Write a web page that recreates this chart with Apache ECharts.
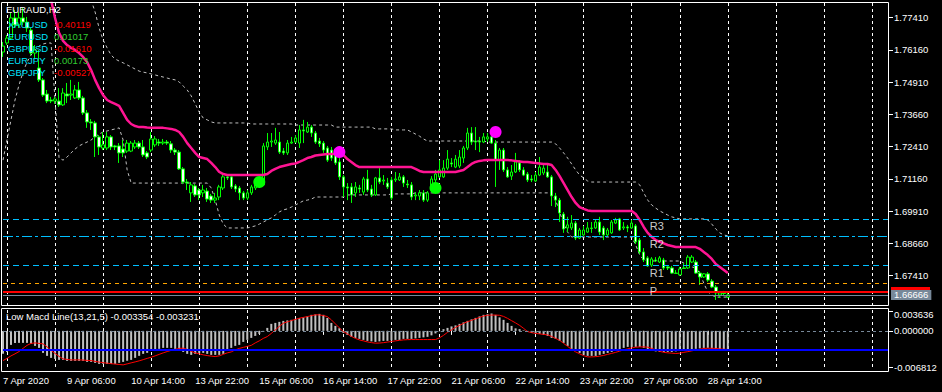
<!DOCTYPE html>
<html><head><meta charset="utf-8">
<script src="https://cdn.jsdelivr.net/npm/echarts@6/dist/echarts.min.js"></script>
<style>html,body{margin:0;padding:0;background:#000;}#c{width:942px;height:392px;}</style>
</head><body><div id="c"></div>
<script>
// ---------------- DATA ----------------
const chartTitle = 'EURAUD,H2';
const symbols = ['XAUUSD','EURUSD','GBPUSD','EURJPY','GBPJPY'];
const symbolValues = [-0.40119, 0.01017, -0.01610, 0.00173, -0.00527];
const timeLabels = ['7 Apr 2020','9 Apr 06:00','10 Apr 14:00','13 Apr 22:00','15 Apr 06:00','16 Apr 14:00','17 Apr 22:00','21 Apr 06:00','22 Apr 14:00','23 Apr 22:00','27 Apr 06:00','28 Apr 14:00'];
const priceTicks = [1.77410,1.76160,1.74910,1.73660,1.72410,1.71160,1.69910,1.68660,1.67410];

const openP = [1.7608,1.7643,1.7662,1.7740,1.7713,1.7740,1.7724,1.7693,1.7604,1.7546,
1.7500,1.7445,1.7422,1.7418,1.7418,1.7403,1.7445,1.7441,1.7430,1.7461,
1.7430,1.7372,1.7337,1.7333,1.7279,1.7236,1.7236,1.7279,1.7244,1.7244,
1.7232,1.7224,1.7224,1.7240,1.7255,1.7240,1.7217,1.7228,1.7248,1.7259,
1.7255,1.7259,1.7252,1.7228,1.7220,1.7155,1.7104,1.7062,1.7089,1.7073,
1.7062,1.7069,1.7050,1.7034,1.7046,1.7081,1.7124,1.7124,1.7089,1.7081,
1.7062,1.7042,1.7062,1.7081,1.7089,1.7093,1.7240,1.7259,1.7255,1.7259,
1.7224,1.7217,1.7255,1.7259,1.7255,1.7306,1.7298,1.7317,1.7294,1.7263,
1.7255,1.7236,1.7228,1.7209,1.7182,1.7124,1.7085,1.7085,1.7062,1.7081,
1.7065,1.7116,1.7077,1.7054,1.7120,1.7108,1.7100,1.7112,1.7112,1.7112,
1.7124,1.7096,1.7093,1.7050,1.7050,1.7062,1.7034,1.7081,1.7112,1.7124,
1.7124,1.7158,1.7178,1.7162,1.7166,1.7197,1.7236,1.7294,1.7263,1.7263,
1.7259,1.7271,1.7279,1.7255,1.7189,1.7228,1.7151,1.7127,1.7143,1.7178,
1.7151,1.7135,1.7116,1.7108,1.7131,1.7139,1.7143,1.7124,1.7050,1.7034,
1.6980,1.6926,1.6926,1.6945,1.6887,1.6899,1.6910,1.6926,1.6926,1.6949,
1.6926,1.6899,1.6907,1.6945,1.6961,1.6926,1.6930,1.6926,1.6934,1.6879,
1.6833,1.6810,1.6782,1.6802,1.6794,1.6802,1.6775,1.6771,1.6751,1.6744,
1.6771,1.6771,1.6794,1.6794,1.6751,1.6736,1.6748,1.6720,1.6697,1.6666,
1.6674,1.6658];
const closeP = [1.7631,1.7662,1.7740,1.7713,1.7740,1.7724,1.7701,1.7604,1.7616,1.7500,
1.7441,1.7418,1.7418,1.7426,1.7403,1.7449,1.7438,1.7445,1.7461,1.7430,
1.7372,1.7337,1.7333,1.7279,1.7240,1.7248,1.7279,1.7240,1.7240,1.7217,
1.7217,1.7255,1.7255,1.7255,1.7240,1.7209,1.7201,1.7271,1.7271,1.7255,
1.7259,1.7255,1.7228,1.7220,1.7155,1.7104,1.7100,1.7093,1.7054,1.7054,
1.7073,1.7038,1.7034,1.7042,1.7085,1.7124,1.7120,1.7085,1.7077,1.7062,
1.7042,1.7062,1.7085,1.7093,1.7108,1.7244,1.7259,1.7263,1.7267,1.7220,
1.7217,1.7255,1.7259,1.7275,1.7306,1.7302,1.7317,1.7294,1.7259,1.7252,
1.7228,1.7189,1.7197,1.7178,1.7124,1.7085,1.7081,1.7054,1.7085,1.7077,
1.7116,1.7073,1.7054,1.7120,1.7104,1.7112,1.7085,1.7042,1.7116,1.7124,
1.7100,1.7093,1.7046,1.7054,1.7062,1.7034,1.7062,1.7116,1.7135,1.7151,
1.7158,1.7193,1.7174,1.7193,1.7201,1.7236,1.7294,1.7259,1.7259,1.7259,
1.7279,1.7279,1.7255,1.7189,1.7228,1.7151,1.7124,1.7143,1.7182,1.7151,
1.7131,1.7112,1.7112,1.7131,1.7162,1.7158,1.7124,1.7050,1.7034,1.6984,
1.6922,1.6938,1.6945,1.6887,1.6918,1.6918,1.6926,1.6924,1.6949,1.6910,
1.6899,1.6918,1.6949,1.6957,1.6918,1.6930,1.6926,1.6945,1.6872,1.6833,
1.6802,1.6779,1.6806,1.6798,1.6810,1.6771,1.6771,1.6751,1.6750,1.6767,
1.6769,1.6813,1.6813,1.6751,1.6736,1.6748,1.6724,1.6697,1.6674,1.6674,
1.6672,1.66666];
const highP = [1.7647,1.7674,1.7759,1.7771,1.7763,1.7779,1.7744,1.7701,1.7635,1.7616,
1.7507,1.7461,1.7434,1.7434,1.7468,1.7468,1.7488,1.7500,1.7480,1.7492,
1.7438,1.7383,1.7348,1.7341,1.7286,1.7298,1.7298,1.7286,1.7248,1.7255,
1.7267,1.7267,1.7263,1.7267,1.7263,1.7267,1.7224,1.7298,1.7282,1.7271,
1.7271,1.7267,1.7263,1.7236,1.7228,1.7162,1.7116,1.7104,1.7096,1.7081,
1.7093,1.7081,1.7058,1.7062,1.7093,1.7135,1.7135,1.7131,1.7096,1.7089,
1.7069,1.7073,1.7093,1.7100,1.7120,1.7255,1.7294,1.7294,1.7314,1.7298,
1.7236,1.7267,1.7279,1.7286,1.7325,1.7345,1.7337,1.7325,1.7302,1.7275,
1.7263,1.7244,1.7240,1.7220,1.7197,1.7131,1.7100,1.7100,1.7104,1.7093,
1.7124,1.7151,1.7093,1.7124,1.7158,1.7131,1.7120,1.7124,1.7143,1.7139,
1.7131,1.7112,1.7104,1.7065,1.7073,1.7073,1.7069,1.7127,1.7151,1.7189,
1.7189,1.7228,1.7197,1.7209,1.7228,1.7244,1.7314,1.7317,1.7317,1.7279,
1.7294,1.7294,1.7290,1.7267,1.7236,1.7236,1.7162,1.7170,1.7217,1.7189,
1.7162,1.7143,1.7131,1.7143,1.7201,1.7170,1.7170,1.7131,1.7062,1.7042,
1.6988,1.6969,1.6976,1.6953,1.6926,1.6934,1.6949,1.6949,1.6957,1.6969,
1.6934,1.6926,1.6957,1.6965,1.6965,1.6949,1.6938,1.6957,1.6941,1.6887,
1.6848,1.6817,1.6813,1.6813,1.6817,1.6810,1.6782,1.6779,1.6763,1.6775,
1.6790,1.6821,1.6821,1.6802,1.6759,1.6751,1.6755,1.6728,1.6705,1.6682,
1.6682,1.6678];
const lowP = [1.7589,1.7635,1.7655,1.7701,1.7701,1.7713,1.7686,1.7596,1.7585,1.7492,
1.7434,1.7410,1.7410,1.7407,1.7395,1.7399,1.7410,1.7422,1.7426,1.7422,
1.7364,1.7314,1.7306,1.7201,1.7209,1.7228,1.7228,1.7228,1.7228,1.7178,
1.7201,1.7217,1.7220,1.7232,1.7232,1.7201,1.7193,1.7220,1.7240,1.7244,
1.7248,1.7248,1.7217,1.7209,1.7151,1.7096,1.7073,1.7027,1.7046,1.7034,
1.7046,1.7027,1.7023,1.7023,1.7034,1.7073,1.7112,1.7077,1.7065,1.7034,
1.7034,1.7034,1.7054,1.7073,1.7081,1.7089,1.7228,1.7240,1.7248,1.7213,
1.7209,1.7209,1.7252,1.7255,1.7236,1.7255,1.7294,1.7279,1.7252,1.7240,
1.7217,1.7182,1.7186,1.7170,1.7112,1.7046,1.7034,1.7023,1.7046,1.7062,
1.7054,1.7065,1.7046,1.7050,1.7096,1.7093,1.7077,1.7034,1.7104,1.7108,
1.7085,1.7081,1.7034,1.7034,1.7034,1.7027,1.7027,1.7073,1.7104,1.7120,
1.7120,1.7151,1.7162,1.7158,1.7158,1.7178,1.7228,1.7248,1.7228,1.7220,
1.7255,1.7259,1.7252,1.7085,1.7151,1.7143,1.7120,1.7112,1.7139,1.7143,
1.7127,1.7104,1.7104,1.7104,1.7127,1.7131,1.7120,1.7011,1.7007,1.6949,
1.6907,1.6910,1.6918,1.6879,1.6883,1.6895,1.6907,1.6907,1.6922,1.6899,
1.6879,1.6891,1.6903,1.6941,1.6914,1.6918,1.6910,1.6922,1.6864,1.6825,
1.6794,1.6775,1.6775,1.6794,1.6790,1.6763,1.6763,1.6748,1.6748,1.6740,
1.6767,1.6767,1.6790,1.6748,1.6705,1.6732,1.6717,1.6693,1.6647,1.6655,
1.6662,1.6655];

const trendLine = [null,null,null,null,null,null,null,null,null,null,
null,null,1.7810,1.7740,1.7682,1.7651,1.7635,1.7624,1.7616,1.7604,
1.7589,1.7569,1.7538,1.7500,1.7468,1.7441,1.7422,1.7414,1.7407,1.7399,
1.7372,1.7345,1.7329,1.7321,1.7317,1.7317,1.7315,1.7314,1.7314,1.7314,
1.7314,1.7312,1.7310,1.7306,1.7298,1.7279,1.7255,1.7236,1.7217,1.7201,
1.7197,1.7193,1.7178,1.7162,1.7143,1.7135,1.7131,1.7131,1.7131,1.7131,
1.7131,1.7131,1.7131,1.7131,1.7131,1.7131,1.7135,1.7147,1.7155,1.7162,
1.7166,1.7170,1.7174,1.7176,1.7182,1.7189,1.7197,1.7201,1.7207,1.7209,
1.7211,1.7213,1.7213,1.7213,1.7211,1.7209,1.7193,1.7182,1.7170,1.7162,
1.7162,1.7162,1.7162,1.7162,1.7162,1.7162,1.7162,1.7162,1.7162,1.7162,
1.7162,1.7162,1.7162,1.7155,1.7147,1.7143,1.7143,1.7143,1.7143,1.7143,
1.7143,1.7143,1.7143,1.7143,1.7147,1.7151,1.7162,1.7174,1.7182,1.7186,
1.7188,1.7189,1.7189,1.7189,1.7189,1.7189,1.7189,1.7188,1.7186,1.7184,
1.7182,1.7182,1.7180,1.7178,1.7176,1.7174,1.7174,1.7170,1.7151,1.7127,
1.7100,1.7073,1.7046,1.7023,1.7007,1.7000,1.6994,1.6992,1.6992,1.6992,
1.6992,1.6992,1.6992,1.6992,1.6992,1.6992,1.6992,1.6992,1.6980,1.6957,
1.6930,1.6907,1.6891,1.6879,1.6872,1.6866,1.6860,1.6856,1.6852,1.6852,
1.6852,1.6852,1.6852,1.6852,1.6845,1.6833,1.6821,1.6806,1.6786,1.6775,
1.6763,1.6751];
const bandUpper = [null,null,null,null,null,null,null,null,null,null,
null,null,null,null,null,null,null,null,null,null,
null,null,1.7810,1.7763,1.7701,1.7655,1.7624,1.7596,1.7581,1.7573,
1.7566,1.7558,1.7550,1.7542,1.7534,1.7530,1.7527,1.7523,1.7519,1.7515,
1.7511,1.7507,1.7503,1.7500,1.7492,1.7476,1.7461,1.7438,1.7407,1.7375,
1.7352,1.7345,1.7337,1.7333,1.7333,1.7333,1.7333,1.7333,1.7333,1.7333,
1.7333,1.7333,1.7329,1.7329,1.7329,1.7329,1.7329,1.7329,1.7329,1.7329,
1.7329,1.7329,1.7329,1.7325,1.7325,1.7325,1.7325,1.7325,1.7325,1.7325,
1.7325,1.7325,1.7325,1.7317,1.7317,1.7317,1.7317,1.7317,1.7317,1.7317,
1.7317,1.7317,1.7317,1.7310,1.7310,1.7310,1.7310,1.7310,1.7306,1.7306,
1.7306,1.7306,1.7298,1.7290,1.7282,1.7271,1.7263,1.7263,1.7263,1.7263,
1.7263,1.7263,1.7263,1.7263,1.7263,1.7263,1.7263,1.7263,1.7263,1.7263,
1.7263,1.7259,1.7259,1.7259,1.7259,1.7259,1.7259,1.7259,1.7259,1.7259,
1.7259,1.7259,1.7259,1.7259,1.7259,1.7259,1.7259,1.7259,1.7252,1.7236,
1.7217,1.7197,1.7174,1.7151,1.7131,1.7120,1.7108,1.7104,1.7104,1.7104,
1.7104,1.7104,1.7104,1.7104,1.7104,1.7104,1.7104,1.7104,1.7104,1.7093,
1.7062,1.7034,1.7015,1.7003,1.6992,1.6984,1.6976,1.6969,1.6965,1.6961,
1.6961,1.6961,1.6961,1.6961,1.6961,1.6961,1.6957,1.6941,1.6922,1.6907,
1.6899,1.6895];
const bandLower = [1.7189,1.7267,1.7345,1.7422,1.7480,1.7530,1.7569,1.7596,1.7616,1.7631,
1.7639,1.7643,1.7643,1.7422,1.7197,1.7189,1.7201,1.7217,1.7232,1.7244,
1.7252,1.7259,1.7267,1.7279,1.7290,1.7298,1.7302,1.7306,1.7310,1.7314,
1.7267,1.7151,1.7100,1.7100,1.7100,1.7100,1.7100,1.7100,1.7100,1.7100,
1.7100,1.7100,1.7100,1.7100,1.7100,1.7100,1.7100,1.7100,1.7100,1.7100,
1.7100,1.7100,1.7081,1.7034,1.6976,1.6941,1.6926,1.6926,1.6926,1.6926,
1.6926,1.6926,1.6930,1.6934,1.6941,1.6949,1.6957,1.6965,1.6976,1.6988,
1.6996,1.7000,1.7007,1.7015,1.7023,1.7031,1.7034,1.7038,1.7046,1.7046,
1.7046,1.7046,1.7046,1.7046,1.7046,1.7046,1.7054,1.7054,1.7054,1.7054,
1.7054,1.7054,1.7054,1.7054,1.7054,1.7054,1.7054,1.7058,1.7058,1.7058,
1.7058,1.7058,1.7058,1.7062,1.7062,1.7062,1.7062,1.7062,1.7062,1.7062,
1.7062,1.7062,1.7062,1.7062,1.7062,1.7062,1.7062,1.7062,1.7062,1.7062,
1.7062,1.7062,1.7062,1.7062,1.7062,1.7062,1.7062,1.7062,1.7062,1.7062,
1.7062,1.7062,1.7062,1.7062,1.7062,1.7062,1.7062,1.7062,1.7034,1.6988,
1.6941,1.6910,1.6891,1.6891,1.6891,1.6891,1.6891,1.6891,1.6891,1.6891,
1.6891,1.6891,1.6891,1.6891,1.6891,1.6891,1.6891,1.6891,1.6860,1.6821,
1.6802,1.6798,1.6798,1.6798,1.6798,1.6798,1.6798,1.6798,1.6798,1.6798,
1.6790,1.6782,1.6775,1.6771,1.6751,1.6712,1.6678,1.6666,1.6658,1.6658,
1.6658,1.6658];

const buySignals = [[64, 1.7104], [108, 1.7081]];
const sellSignals = [[84, 1.7220], [123, 1.7298]];
const pivotNames = ['R3','R2','R1','P'];
const pivotValues = [1.6961, 1.6894, 1.6781, 1.6712];
const dailyLine = 1.6678;
const bidPrice = 1.66666;

const macdName = 'Low Macd Line(13,21,5)';
const macdHist = [-0.00400,-0.00366,-0.00244,-0.00209,-0.00209,-0.00209,-0.00209,-0.00226,-0.00261,-0.00296,
-0.00383,-0.00435,-0.00470,-0.00488,-0.00505,-0.00505,-0.00522,-0.00522,-0.00522,-0.00522,
-0.00522,-0.00540,-0.00540,-0.00557,-0.00575,-0.00575,-0.00575,-0.00575,-0.00575,-0.00557,
-0.00540,-0.00522,-0.00505,-0.00470,-0.00435,-0.00400,-0.00383,-0.00348,-0.00331,-0.00313,
-0.00296,-0.00296,-0.00296,-0.00313,-0.00331,-0.00366,-0.00400,-0.00418,-0.00400,-0.00383,
-0.00383,-0.00400,-0.00418,-0.00418,-0.00418,-0.00400,-0.00348,-0.00296,-0.00261,-0.00244,
-0.00192,-0.00157,-0.00122,-0.00087,-0.00052,-0.00017,0.00052,0.00122,0.00139,0.00157,
0.00174,0.00183,0.00192,0.00209,0.00221,0.00235,0.00252,0.00279,0.00287,0.00296,
0.00279,0.00226,0.00139,0.00087,0.00047,-0.00035,-0.00070,-0.00104,-0.00122,-0.00139,
-0.00157,-0.00174,-0.00183,-0.00192,-0.00183,-0.00174,-0.00174,-0.00165,-0.00157,-0.00157,
-0.00139,-0.00139,-0.00139,-0.00131,-0.00122,-0.00113,-0.00104,-0.00078,-0.00044,-0.00009,
0.00030,0.00052,0.00078,0.00096,0.00122,0.00148,0.00174,0.00200,0.00226,0.00252,
0.00279,0.00291,0.00303,0.00279,0.00235,0.00192,0.00139,0.00087,0.00044,0.00030,
0.00009,-0.00017,-0.00035,-0.00044,-0.00052,-0.00070,-0.00087,-0.00122,-0.00139,-0.00174,
-0.00209,-0.00261,-0.00313,-0.00348,-0.00383,-0.00418,-0.00435,-0.00435,-0.00435,-0.00418,
-0.00400,-0.00383,-0.00366,-0.00348,-0.00331,-0.00296,-0.00279,-0.00279,-0.00279,-0.00279,
-0.00296,-0.00331,-0.00348,-0.00357,-0.00366,-0.00366,-0.00366,-0.00366,-0.00357,-0.00348,
-0.00340,-0.00331,-0.00322,-0.00313,-0.00305,-0.00296,-0.00296,-0.00305,-0.00313,-0.00322,
-0.00331,-0.003354];
const macdSignal = [-0.00517,-0.00479,-0.00435,-0.00400,-0.00360,-0.00305,-0.00252,-0.00218,-0.00209,-0.00218,
-0.00226,-0.00279,-0.00340,-0.00392,-0.00444,-0.00488,-0.00496,-0.00505,-0.00505,-0.00505,
-0.00508,-0.00514,-0.00517,-0.00531,-0.00543,-0.00554,-0.00562,-0.00571,-0.00578,-0.00585,
-0.00592,-0.00575,-0.00557,-0.00540,-0.00522,-0.00501,-0.00479,-0.00458,-0.00435,-0.00409,
-0.00383,-0.00360,-0.00340,-0.00322,-0.00305,-0.00301,-0.00322,-0.00357,-0.00383,-0.00400,
-0.00418,-0.00430,-0.00440,-0.00447,-0.00435,-0.00409,-0.00383,-0.00366,-0.00331,-0.00305,
-0.00287,-0.00270,-0.00252,-0.00209,-0.00174,-0.00131,-0.00099,-0.00044,0.00017,0.00078,
0.00134,0.00157,0.00179,0.00200,0.00221,0.00235,0.00249,0.00265,0.00279,0.00279,
0.00266,0.00249,0.00192,0.00122,0.00052,-0.00012,-0.00052,-0.00096,-0.00131,-0.00157,
-0.00174,-0.00192,-0.00204,-0.00214,-0.00212,-0.00205,-0.00195,-0.00185,-0.00174,-0.00165,
-0.00157,-0.00153,-0.00151,-0.00151,-0.00151,-0.00151,-0.00151,-0.00151,-0.00151,-0.00122,
-0.00078,-0.00026,0.00017,0.00061,0.00096,0.00131,0.00160,0.00183,0.00209,0.00235,
0.00258,0.00272,0.00275,0.00275,0.00272,0.00252,0.00218,0.00178,0.00139,0.00096,
0.00044,-0.00012,-0.00031,-0.00044,-0.00052,-0.00061,-0.00070,-0.00096,-0.00131,-0.00164,
-0.00218,-0.00270,-0.00322,-0.00366,-0.00400,-0.00432,-0.00453,-0.00453,-0.00449,-0.00440,
-0.00427,-0.00409,-0.00392,-0.00374,-0.00353,-0.00331,-0.00313,-0.00296,-0.00284,-0.00279,
-0.00279,-0.00284,-0.00305,-0.00331,-0.00357,-0.00374,-0.00383,-0.00388,-0.00394,-0.00388,
-0.00374,-0.00362,-0.00348,-0.00334,-0.00319,-0.00306,-0.00303,-0.00303,-0.00306,-0.00313,
-0.00319,-0.003231];
const macdMax = 0.003636;
const macdMin = -0.006812;
const macdLevel = -0.00335;

// ---------------- CHART ----------------
const FONT = '"Liberation Sans", Arial, sans-serif';
const slotCount = 222;
const cats = Array.from({length: slotCount}, (_, i) => String(i));
const candleData = closeP.map((c, i) => [openP[i], c, lowP[i], highP[i]]);
const labelEvery = 16, gridEvery = 12;
const isLabelIdx = (i) => i % labelEvery === 0 && (i / labelEvery) < timeLabels.length;
const isGridIdx = (i) => i % gridEvery === 1;
const splitStyle = {show: true, interval: isGridIdx, lineStyle: {color: '#ffffff', width: 1, type: [3, 3]}};

const chart = echarts.init(document.getElementById('c'), null, {renderer: 'svg', width: 942, height: 392});

const graphics = [
  {type: 'rect', shape: {x: 1.5, y: 2.5, width: 887, height: 303}, style: {fill: 'none', stroke: '#ffffff', lineWidth: 1}, silent: true, z: 100},
  {type: 'rect', shape: {x: 1.5, y: 308.5, width: 887, height: 63}, style: {fill: 'none', stroke: '#ffffff', lineWidth: 1}, silent: true, z: 100},
  {type: 'text', x: 6, y: 4, style: {text: chartTitle, fill: '#ffffff', font: '9.5px ' + FONT, verticalAlign: 'top'}, z: 101}
];
symbols.forEach((s, k) => {
  graphics.push({type: 'text', x: 8, y: 19 + 12 * k, style: {text: s, fill: '#00e5ff', font: '9.5px ' + FONT, verticalAlign: 'top'}, z: 101});
  const v = symbolValues[k];
  graphics.push({type: 'text', x: 54, y: 19 + 12 * k, style: {text: v.toFixed(5), fill: v < 0 ? '#ff0000' : '#32cd32', font: '9.5px ' + FONT, verticalAlign: 'top'}, z: 101});
});
graphics.push({type: 'text', x: 6, y: 311, style: {text: macdName + ' ' + macdHist[macdHist.length - 1].toFixed(6) + ' ' + macdSignal[macdSignal.length - 1].toFixed(6), fill: '#ffffff', font: '9.5px ' + FONT, verticalAlign: 'top'}, z: 101});

const pivotStyles = [
  {color: '#00bfff', type: [6, 4], width: 1},
  {color: '#00bfff', type: [10, 3, 3, 3], width: 1},
  {color: '#00bfff', type: [6, 4], width: 1},
  {color: '#ffa500', type: [4, 4], width: 1}
];

const option = {
  backgroundColor: '#000000',
  animation: false,
  graphic: graphics,
  grid: [
    {left: 3, right: 54, top: 3, height: 302},
    {left: 3, right: 54, top: 310, height: 60}
  ],
  xAxis: [
    {type: 'category', gridIndex: 0, data: cats, boundaryGap: false,
     axisLine: {show: false}, axisTick: {show: false}, axisLabel: {show: false}, splitLine: splitStyle},
    {type: 'category', gridIndex: 1, data: cats, boundaryGap: false,
     axisLine: {show: false},
     axisTick: {show: true, interval: isLabelIdx, length: 4, lineStyle: {color: '#ffffff'}},
     axisLabel: {show: true, interval: isLabelIdx, align: 'left', margin: 5, color: '#ffffff', fontSize: 9.5, fontFamily: FONT,
       formatter: (v, idx) => (idx % labelEvery === 0 && timeLabels[idx / labelEvery]) ? timeLabels[idx / labelEvery] : ''},
     splitLine: splitStyle}
  ],
  yAxis: [
    {type: 'value', gridIndex: 0, position: 'right', min: 1.66274, max: 1.77980,
     splitLine: {show: false}, axisLine: {show: false},
     axisTick: {show: true, customValues: priceTicks, length: 5, lineStyle: {color: '#ffffff'}},
     axisLabel: {show: true, customValues: priceTicks, margin: 6, color: '#ffffff', fontSize: 9.5, fontFamily: FONT, formatter: (v) => v.toFixed(5)}},
    {type: 'value', gridIndex: 1, position: 'right', min: macdMin, max: macdMax,
     splitLine: {show: false}, axisLine: {show: false},
     axisTick: {show: true, customValues: [macdMax - 0.0002, 0, macdMin + 0.0005], length: 5, lineStyle: {color: '#ffffff'}},
     axisLabel: {show: true, customValues: [macdMax - 0.00087, 0, macdMin + 0.00052], margin: 6, color: '#ffffff', fontSize: 9.5, fontFamily: FONT,
       formatter: (v) => v > 0.0005 ? macdMax.toFixed(6) : (v < -0.0005 ? macdMin.toFixed(6) : '0.000000')}}
  ],
  series: [
    {name: 'upper', type: 'line', xAxisIndex: 0, yAxisIndex: 0, data: bandUpper, showSymbol: false, z: 2,
     lineStyle: {color: '#c0c0c0', width: 1, type: [3, 3]},
     markLine: {symbol: 'none', precision: 6, silent: true, animation: false, label: {show: false},
       data: pivotValues.map((v, k) => ({yAxis: v, lineStyle: pivotStyles[k]}))}},
    {name: 'lower', type: 'line', xAxisIndex: 0, yAxisIndex: 0, data: bandLower, showSymbol: false, z: 2,
     lineStyle: {color: '#c0c0c0', width: 1, type: [3, 3]}},
    {name: 'price', type: 'candlestick', xAxisIndex: 0, yAxisIndex: 0, data: candleData, z: 3, clip: false,
     barWidth: 3,
     itemStyle: {color: '#000000', color0: '#ffffff', borderColor: '#00ff00', borderColor0: '#00ff00', borderColorDoji: '#00ff00', borderWidth: 1}},
    {name: 'trend', type: 'line', xAxisIndex: 0, yAxisIndex: 0, data: trendLine, showSymbol: false, z: 4,
     lineStyle: {color: '#ff1493', width: 2.5},
     markLine: {symbol: 'none', precision: 6, silent: true, animation: false,
       data: [
         {yAxis: dailyLine, lineStyle: {color: '#ff0000', width: 2, type: 'solid'},
          label: {show: true, position: 'end', distance: 3, formatter: '{t|}', backgroundColor: '#ff0000', padding: 0,
                  rich: {t: {width: 39, height: 10}}}},
         {yAxis: bidPrice, lineStyle: {color: '#778899', width: 1, type: 'solid'},
          label: {show: true, position: 'end', distance: 3, formatter: () => bidPrice.toFixed(5), backgroundColor: '#778899', color: '#ffffff', padding: [1, 3, 0, 3], lineHeight: 9, fontSize: 9.5, fontFamily: FONT}}
       ]}},
    {name: 'buy', type: 'scatter', xAxisIndex: 0, yAxisIndex: 0, data: buySignals, symbolSize: 12, z: 5,
     itemStyle: {color: '#00ff00', opacity: 1}},
    {name: 'sell', type: 'scatter', xAxisIndex: 0, yAxisIndex: 0, data: sellSignals, symbolSize: 12, z: 5,
     itemStyle: {color: '#ff00ff', opacity: 1}},
    {name: 'pivotLabels', type: 'scatter', xAxisIndex: 0, yAxisIndex: 0, symbolSize: 0, z: 6,
     data: pivotValues.map((v, k) => ({value: [162, v], name: pivotNames[k]})),
     label: {show: true, formatter: '{b}', position: [-2, 2], align: 'left', verticalAlign: 'top', color: '#ffffff', fontSize: 11, fontFamily: FONT}},
    {name: 'hist', type: 'bar', xAxisIndex: 1, yAxisIndex: 1, data: macdHist, barWidth: 2, z: 2,
     itemStyle: {color: '#c0c0c0'},
     markLine: {symbol: ['none', 'none'], precision: 6, silent: true, animation: false, label: {show: false},
       data: [
         {yAxis: 0, lineStyle: {color: '#778899', width: 1, type: [3, 3]}},
         {yAxis: macdLevel, lineStyle: {color: '#0000ff', width: 2, type: 'solid'}}
       ]}},
    {name: 'signal', type: 'line', xAxisIndex: 1, yAxisIndex: 1, data: macdSignal, showSymbol: false, z: 4,
     lineStyle: {color: '#ff0000', width: 1}}
  ]
};
chart.setOption(option);
</script>
</body></html>
